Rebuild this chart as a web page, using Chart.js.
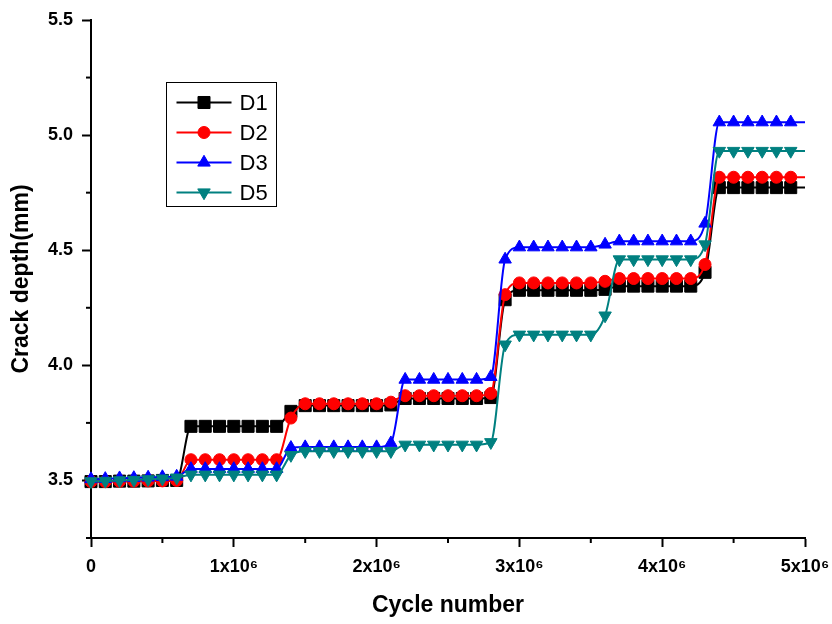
<!DOCTYPE html>
<html>
<head>
<meta charset="utf-8">
<script src="https://cdn.jsdelivr.net/npm/chart.js@4/dist/chart.umd.min.js"></script>
<style>
html,body{margin:0;padding:0;background:#fff}
#wrap{width:832px;height:624px;position:relative}
</style>
</head>
<body>
<div id="wrap"><canvas id="c" width="832" height="624"></canvas></div>
<script>
// ---------- data ----------
const cycles = [0,100000,200000,300000,400000,500000,600000,700000,800000,900000,
  1000000,1100000,1200000,1300000,1400000,1500000,1600000,1700000,1800000,1900000,
  2000000,2100000,2200000,2300000,2400000,2500000,2600000,2700000,2800000,2900000,
  3000000,3100000,3200000,3300000,3400000,3500000,3600000,3700000,3800000,3900000,
  4000000,4100000,4200000,4300000,4400000,4500000,4600000,4700000,4800000,4900000,5000000];

const seriesNames = ['D1','D2','D3','D5'];

const d1 = [3.495,3.495,3.497,3.497,3.498,3.500,3.500,
  3.735,3.735,3.735,3.735,3.735,3.735,3.735,
  3.800,
  3.825,3.825,3.825,3.825,3.825,3.825,3.828,
  3.856,3.856,3.856,3.856,3.856,3.856,3.860,
  4.285,
  4.326,4.326,4.326,4.326,4.326,4.326,
  4.330,
  4.344,4.344,4.344,4.344,4.344,4.344,
  4.404,
  4.772,4.772,4.772,4.772,4.772,4.772,4.772];

const d2 = [3.495,3.495,3.496,3.497,3.498,3.498,3.500,
  3.590,3.590,3.590,3.590,3.590,3.590,3.590,
  3.771,
  3.833,3.833,3.833,3.833,3.833,3.833,3.840,
  3.868,3.868,3.868,3.868,3.868,3.868,3.878,
  4.307,
  4.358,4.358,4.358,4.358,4.358,4.358,
  4.365,
  4.377,4.377,4.377,4.377,4.377,4.377,
  4.438,
  4.817,4.817,4.817,4.817,4.817,4.817,4.817];

const d3 = [3.506,3.507,3.510,3.511,3.513,3.515,3.517,
  3.550,3.550,3.550,3.550,3.550,3.550,3.550,
  3.642,
  3.645,3.645,3.645,3.645,3.645,3.645,3.662,
  3.938,3.938,3.938,3.938,3.938,3.938,3.950,
  4.460,
  4.513,4.513,4.513,4.513,4.513,4.513,
  4.525,
  4.539,4.539,4.539,4.539,4.539,4.539,
  4.616,
  5.056,5.056,5.056,5.056,5.056,5.056,5.056];

const d5 = [3.496,3.498,3.500,3.502,3.505,3.508,3.512,
  3.525,3.525,3.525,3.525,3.525,3.525,3.525,
  3.610,
  3.627,3.627,3.627,3.627,3.627,3.627,3.627,
  3.655,3.655,3.655,3.655,3.655,3.655,3.666,
  4.090,
  4.133,4.133,4.133,4.133,4.133,4.133,
  4.216,
  4.460,4.460,4.460,4.460,4.460,4.460,
  4.525,
  4.931,4.931,4.931,4.931,4.931,4.931,4.931];

const xTickValues = [0,1000000,2000000,3000000,4000000,5000000];
const xTickLabels = ['0','1x10\u2076','2x10\u2076','3x10\u2076','4x10\u2076','5x10\u2076'];
const xMinorTicks = [500000,1500000,2500000,3500000,4500000];
const yTickValues = [3.5,4.0,4.5,5.0,5.5];
const yTickLabels = ['3.5','4.0','4.5','5.0','5.5'];
const yMinorTicks = [3.25,3.75,4.25,4.75,5.25];

// ---------- styles ----------
const FONT = '"Liberation Sans", Arial, Helvetica, sans-serif';
const styles = [
  {color:'#000000', pointStyle:'rect',     radius:8.5, rotation:0,   order:3},
  {color:'#ff0000', pointStyle:'circle',   radius:6,   rotation:0,   order:2},
  {color:'#0000ff', pointStyle:'triangle', radius:7.2, rotation:0,   order:1},
  {color:'#008080', pointStyle:'triangle', radius:7.2, rotation:180, order:0}
];
const seriesValues = [d1,d2,d3,d5];
const lastIdx = cycles.length - 1;

const datasets = seriesNames.map((name,i)=>{
  const s = styles[i];
  return {
    label: name,
    data: cycles.map((c,k)=>({x:c, y:seriesValues[i][k]})),
    borderColor: s.color,
    backgroundColor: s.color,
    pointBackgroundColor: s.color,
    pointBorderColor: s.color,
    pointBorderWidth: 1,
    pointStyle: s.pointStyle,
    pointRotation: s.rotation,
    pointRadius: ctx => ctx.dataIndex === lastIdx ? 0 : s.radius,
    pointHoverRadius: ctx => ctx.dataIndex === lastIdx ? 0 : s.radius,
    borderWidth: 2,
    cubicInterpolationMode: 'monotone',
    fill: false,
    clip: false,
    order: s.order,
    legendRadius: s.radius
  };
});

// ---------- marker helper for legend ----------
function drawMarker(ctx, style, r, rot, x, y){
  ctx.beginPath();
  if (style === 'rect'){
    const h = Math.SQRT1_2 * r;
    ctx.rect(x-h, y-h, 2*h, 2*h);
  } else if (style === 'circle'){
    ctx.arc(x, y, r, 0, Math.PI*2);
  } else {
    let a = rot * Math.PI/180;
    ctx.moveTo(x + Math.sin(a)*r, y - Math.cos(a)*r);
    a += 2*Math.PI/3;
    ctx.lineTo(x + Math.sin(a)*r, y - Math.cos(a)*r);
    a += 2*Math.PI/3;
    ctx.lineTo(x + Math.sin(a)*r, y - Math.cos(a)*r);
    ctx.closePath();
  }
  ctx.fill();
  ctx.lineWidth = 1;
  ctx.stroke();
}

const insideLegend = {
  id:'insideLegend',
  afterDraw(chart){
    const {ctx, chartArea} = chart;
    const x0 = Math.round(chartArea.left + 75) + 0.5;
    const y0 = Math.round(chartArea.top + 62) + 0.5;
    const w = 110, h = 124;
    ctx.save();
    ctx.fillStyle = '#fff';
    ctx.fillRect(x0, y0, w, h);
    ctx.strokeStyle = '#000';
    ctx.lineWidth = 1;
    ctx.strokeRect(x0, y0, w, h);
    chart.data.datasets.forEach((ds,i)=>{
      const cy = y0 + 20 + i*30;
      ctx.strokeStyle = ds.borderColor;
      ctx.lineWidth = 2;
      ctx.beginPath();
      ctx.moveTo(x0+10, cy);
      ctx.lineTo(x0+65, cy);
      ctx.stroke();
      ctx.fillStyle = ds.backgroundColor;
      drawMarker(ctx, ds.pointStyle, ds.legendRadius, ds.pointRotation||0, x0+37.5, cy);
      ctx.fillStyle = '#000';
      ctx.font = '22px ' + FONT;
      ctx.textAlign = 'left';
      ctx.textBaseline = 'middle';
      ctx.fillText(ds.label, x0+73, cy+1);
    });
    ctx.restore();
  }
};

const minorTicks = {
  id:'minorTicks',
  afterDraw(chart){
    const {ctx} = chart;
    const xs = chart.scales.x, ys = chart.scales.y;
    ctx.save();
    ctx.strokeStyle = '#000';
    ctx.lineWidth = 2;
    xMinorTicks.forEach(v=>{
      const p = xs.getPixelForValue(v);
      ctx.beginPath(); ctx.moveTo(p, xs.top); ctx.lineTo(p, xs.top+5); ctx.stroke();
    });
    yMinorTicks.forEach(v=>{
      const p = ys.getPixelForValue(v);
      ctx.beginPath(); ctx.moveTo(ys.right, p); ctx.lineTo(ys.right-5, p); ctx.stroke();
    });
    ctx.restore();
  }
};

new Chart(document.getElementById('c'), {
  type: 'line',
  data: { datasets },
  options: {
    responsive: false,
    animation: false,
    devicePixelRatio: 1,
    layout: { padding: { top: 20, right: 27, bottom: 0, left: 0 } },
    plugins: { legend: { display: false }, tooltip: { enabled: false } },
    scales: {
      x: {
        type: 'linear',
        min: 0, max: 5000000,
        afterBuildTicks: s => { s.ticks = xTickValues.map(v=>({value:v})); },
        afterFit: s => { s.height = 86; s.paddingLeft = 0; s.paddingRight = 0; },
        ticks: {
          color: '#000',
          padding: 9,
          maxRotation: 0,
          autoSkip: false,
          font: { family: FONT, size: 18, weight: 'bold' },
          callback: (v) => { const i = xTickValues.indexOf(v); return i >= 0 ? xTickLabels[i] : ''; }
        },
        grid: { display: true, drawOnChartArea: false, drawTicks: true, tickLength: 9, tickWidth: 2, tickColor: '#000' },
        border: { display: true, color: '#000', width: 2 },
        title: {
          display: true, text: 'Cycle number', color: '#000',
          font: { family: FONT, size: 23, weight: 'bold' },
          padding: { top: 0, bottom: 5 }
        }
      },
      y: {
        type: 'linear',
        min: 3.25, max: 5.5,
        afterBuildTicks: s => { s.ticks = yTickValues.map(v=>({value:v})); },
        afterFit: s => { s.width = 91; s.paddingTop = 0; s.paddingBottom = 0; },
        ticks: {
          color: '#000',
          padding: 9,
          autoSkip: false,
          font: { family: FONT, size: 18, weight: 'bold' },
          callback: (v) => { const i = yTickValues.indexOf(v); return i >= 0 ? yTickLabels[i] : ''; }
        },
        grid: { display: true, drawOnChartArea: false, drawTicks: true, tickLength: 9, tickWidth: 2, tickColor: '#000' },
        border: { display: true, color: '#000', width: 2 },
        title: {
          display: true, text: 'Crack depth(mm)', color: '#000',
          font: { family: FONT, size: 23, weight: 'bold' },
          padding: { top: 8, bottom: 0 }
        }
      }
    }
  },
  plugins: [minorTicks, insideLegend]
});
</script>
</body>
</html>
